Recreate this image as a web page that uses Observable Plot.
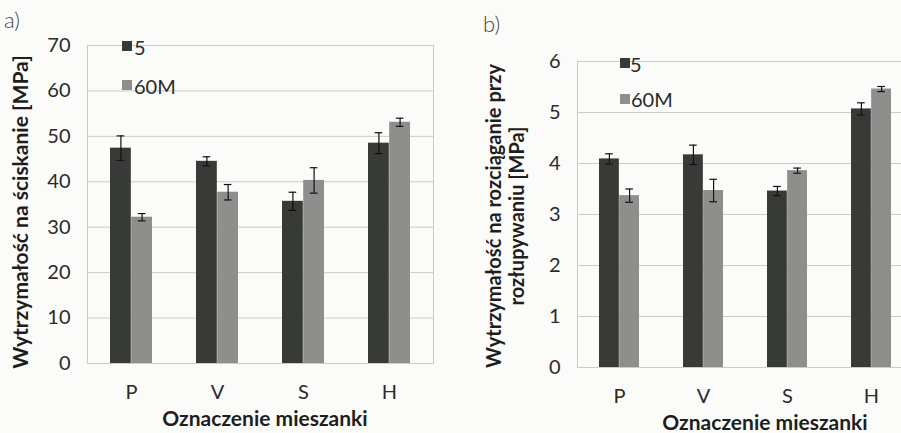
<!DOCTYPE html>
<html>
<head>
<meta charset="utf-8">
<script src="https://cdn.jsdelivr.net/npm/d3@7"></script>
<script src="https://cdn.jsdelivr.net/npm/@observablehq/plot@0.6"></script>
<style>
  html, body { margin: 0; padding: 0; background: #fbfbf9; }
  #root { position: relative; width: 901px; height: 433px; overflow: hidden; background: #fbfbf9; font-family: Lato, "Open Sans", sans-serif; color: #2a2a2a; }
  .abs { position: absolute; white-space: nowrap; line-height: 1; }
  .panel { position: absolute; top: 0; }
  .panel svg { max-width: none !important; display: block; }
  .sw { position: absolute; width: 10px; height: 10px; }
  .rot { transform: translate(-50%, -50%) rotate(-90deg); text-align: center; }
</style>
</head>
<body>
<div id="root"></div>
<script>
// ---- data ----
const categories = ["P", "V", "S", "H"];
const seriesNames = ["5", "60M"];
// a) compressive strength [MPa]
const compress5 = [47.4, 44.5, 35.7, 48.5];
const compress5Err = [2.7, 1.0, 2.0, 2.3];
const compress60M = [32.2, 37.7, 40.3, 53.1];
const compress60MErr = [0.8, 1.7, 2.8, 0.9];
const compressTicks = [0, 10, 20, 30, 40, 50, 60, 70];
// b) splitting tensile strength [MPa]
const tensile5 = [4.09, 4.17, 3.46, 5.07];
const tensile5Err = [0.10, 0.19, 0.09, 0.12];
const tensile60M = [3.37, 3.47, 3.86, 5.46];
const tensile60MErr = [0.13, 0.22, 0.05, 0.05];
const tensileTicks = [0, 1, 2, 3, 4, 5, 6];

const colors = {"5": "#383a37", "60M": "#8e8f8c"};
const gridColor = "#cbcbc8";

function rows(vals, errs, s) {
  return categories.map((c, i) => ({cat: c, series: s, value: vals[i], err: errs[i]}));
}

function panel({a, b, ticks, yMax, width, ml, mr, mt, mb, padIn, padOut}) {
  const step = (width - ml - mr) / (categories.length - padIn + 2 * padOut);
  const bw = step * (1 - padIn);
  const half = bw / 2;
  const q = bw / 4;
  const cap = 4;
  const errMarks = (data, dx) => [
    Plot.ruleX(data, {x: "cat", y1: d => d.value - d.err, y2: d => d.value + d.err, dx, stroke: "#111", strokeWidth: 1.2}),
    Plot.tickY(data, {x: "cat", y: d => d.value + d.err, dx, insetLeft: half - cap, insetRight: half - cap, stroke: "#111", strokeWidth: 1.2}),
    Plot.tickY(data, {x: "cat", y: d => d.value - d.err, dx, insetLeft: half - cap, insetRight: half - cap, stroke: "#111", strokeWidth: 1.2})
  ];
  return Plot.plot({
    width, height: 433,
    marginLeft: ml, marginRight: mr, marginTop: mt, marginBottom: mb,
    style: {fontFamily: "Lato, 'Open Sans', sans-serif", fontSize: "20px", color: "#2a2a2a", background: "transparent", maxWidth: "none"},
    x: {domain: categories, paddingInner: padIn, paddingOuter: padOut, tickSize: 0, tickPadding: 21, label: null},
    y: {domain: [0, yMax], ticks, tickFormat: d => String(d), tickSize: 0, tickPadding: 17, label: null},
    marks: [
      Plot.ruleY(ticks, {y: d => d, stroke: gridColor, strokeWidth: 1}),
      Plot.frame({stroke: gridColor}),
      Plot.barY(a, {x: "cat", y: "value", fill: colors["5"], insetRight: half}),
      Plot.barY(b, {x: "cat", y: "value", fill: colors["60M"], insetLeft: half}),
      ...errMarks(a, -q),
      ...errMarks(b, q)
    ]
  });
}

const root = document.getElementById("root");

const svgA = panel({
  a: rows(compress5, compress5Err, "5"),
  b: rows(compress60M, compress60MErr, "60M"),
  ticks: compressTicks, yMax: 70,
  width: 450, ml: 87, mr: 17, mt: 45, mb: 70, padIn: 0.51, padOut: 0.255
});
const wrapA = document.createElement("div");
wrapA.className = "panel"; wrapA.style.left = "0px"; wrapA.style.width = "450px";
wrapA.appendChild(svgA);
root.appendChild(wrapA);

const svgB = panel({
  a: rows(tensile5, tensile5Err, "5"),
  b: rows(tensile60M, tensile60MErr, "60M"),
  ticks: tensileTicks, yMax: 6,
  width: 470, ml: 127, mr: 7, mt: 61, mb: 66, padIn: 0.52, padOut: 0.26
});
const wrapB = document.createElement("div");
wrapB.className = "panel"; wrapB.style.left = "450px"; wrapB.style.width = "470px";
wrapB.appendChild(svgB);
root.appendChild(wrapB);

// ---- text overlays ----
function addText(txt, x, y, style = {}, cls = "abs") {
  const d = document.createElement("div");
  d.className = cls;
  d.textContent = txt;
  d.style.left = x + "px";
  d.style.top = y + "px";
  Object.assign(d.style, style);
  root.appendChild(d);
  return d;
}
function addSwatch(x, y, color) {
  const d = document.createElement("div");
  d.className = "sw";
  d.style.left = x + "px"; d.style.top = y + "px"; d.style.background = color;
  root.appendChild(d);
}

// panel labels
addText("a)", 4, 9, {fontSize: "22px", fontWeight: "300", color: "#444"});
addText("b)", 483, 13, {fontSize: "22px", fontWeight: "300", color: "#444"});

// legends
addSwatch(122, 41, colors["5"]);
addText(seriesNames[0], 134, 47, {fontSize: "20px", transform: "translateY(-50%)"});
addSwatch(122, 80, colors["60M"]);
addText(seriesNames[1], 134, 86, {fontSize: "20px", transform: "translateY(-50%)"});

addSwatch(620, 58, colors["5"]);
addText(seriesNames[0], 630, 64, {fontSize: "20px", transform: "translateY(-50%)"});
addSwatch(620, 94, colors["60M"]);
addText(seriesNames[1], 631, 99, {fontSize: "20px", transform: "translateY(-50%)"});

// axis titles
addText("Wytrzymałość na ściskanie [MPa]", 19, 212, {fontSize: "21px", fontWeight: "700", color: "#1e1e1e"}, "abs rot");
addText("Wytrzymałość na rozciąganie przy", 493, 216, {fontSize: "20px", fontWeight: "700", color: "#1e1e1e"}, "abs rot");
addText("rozłupywaniu [MPa]", 516, 216, {fontSize: "20px", fontWeight: "700", color: "#1e1e1e"}, "abs rot");

addText("Oznaczenie mieszanki", 265, 417, {fontSize: "21px", fontWeight: "700", color: "#1e1e1e", transform: "translate(-50%,-50%)"});
addText("Oznaczenie mieszanki", 765, 421, {fontSize: "21px", fontWeight: "700", color: "#1e1e1e", transform: "translate(-50%,-50%)"});
</script>
</body>
</html>
